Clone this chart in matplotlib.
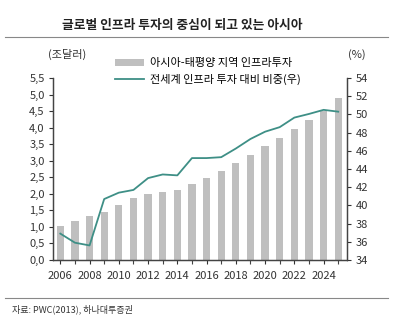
import matplotlib
matplotlib.use("Agg")
import matplotlib.pyplot as plt
from matplotlib.ticker import MultipleLocator
import numpy as np

plt.rcParams['font.family'] = ['Noto Sans CJK KR', 'DejaVu Sans']

years = list(range(2006, 2026))
asia_invest = [1.04, 1.18, 1.34, 1.44, 1.65, 1.86, 2.00, 2.04, 2.13, 2.31,
               2.48, 2.69, 2.93, 3.17, 3.45, 3.69, 3.96, 4.24, 4.50, 4.90]
world_share = [36.9, 35.9, 35.6, 40.7, 41.4, 41.7, 43.0, 43.4, 43.3, 45.2,
               45.2, 45.3, 46.25, 47.3, 48.1, 48.6, 49.65, 50.05, 50.5, 50.3]
left_ticks = np.arange(0, 5.51, 0.5)
right_ticks = np.arange(34, 54.1, 2)
year_ticks = list(range(2006, 2025, 2))

bar_color = "#bfbfbf"
line_color = "#3e8f86"
text_color = "#333333"

fig = plt.figure(figsize=(4, 3.25), dpi=100)
ax = fig.add_axes([0.1325, 0.2, 0.735, 0.56])
ax2 = ax.twinx()

bars = ax.bar(years, asia_invest, width=0.5, color=bar_color,
              label="아시아-태평양 지역 인프라투자")
line, = ax2.plot(years, world_share, color=line_color, lw=1.3,
                 label="전세계 인프라 투자 대비 비중(우)")

ax.set_xlim(2005.5, 2025.6)
ax.set_ylim(0, 5.5)
ax2.set_ylim(34, 54)
ax.set_yticks(left_ticks)
ax.set_yticklabels([f"{v:.1f}".replace(".", ",") for v in left_ticks])
ax2.set_yticks(right_ticks)
ax2.set_yticklabels([f"{int(v)}" for v in right_ticks])
ax.set_xticks(year_ticks)
ax.set_xticklabels([str(y) for y in year_ticks])
ax.xaxis.set_minor_locator(MultipleLocator(1))

for a in (ax, ax2):
    a.spines["top"].set_visible(False)
    for s in a.spines.values():
        s.set_color("#444444")
        s.set_linewidth(0.9)
    a.tick_params(labelsize=8, colors=text_color, length=3, width=0.8, pad=3)
ax.tick_params(axis="x", which="both", length=3, pad=5)
ax.tick_params(axis="x", which="minor", length=3, width=0.8, colors="#444444")

# unit labels above each axis
fig.text(0.168, 0.822, "(조달러)", fontsize=8, color=text_color, ha="center")
fig.text(0.893, 0.822, "(%)", fontsize=8, color=text_color, ha="center")

fig.legend(handles=[bars, line], loc="upper left", bbox_to_anchor=(0.277, 0.835),
           frameon=False, fontsize=8, handlelength=2.6, handleheight=0.6,
           labelspacing=0.55, borderaxespad=0, handletextpad=0.5)

# title, rules and source note
fig.text(0.455, 0.92, "글로벌 인프라 투자의 중심이 되고 있는 아시아", fontsize=9.2,
         fontweight="bold", color="#222222", ha="center", va="center")
fig.add_artist(plt.Line2D([0.012, 0.97], [0.885, 0.885], color="#888888", lw=0.8))
fig.add_artist(plt.Line2D([0.012, 0.97], [0.082, 0.082], color="#888888", lw=0.8))
fig.text(0.03, 0.048, "자료: PWC(2013), 하나대투증권", fontsize=6.5,
         color=text_color, va="center")

fig.savefig("out.png", dpi=100)
